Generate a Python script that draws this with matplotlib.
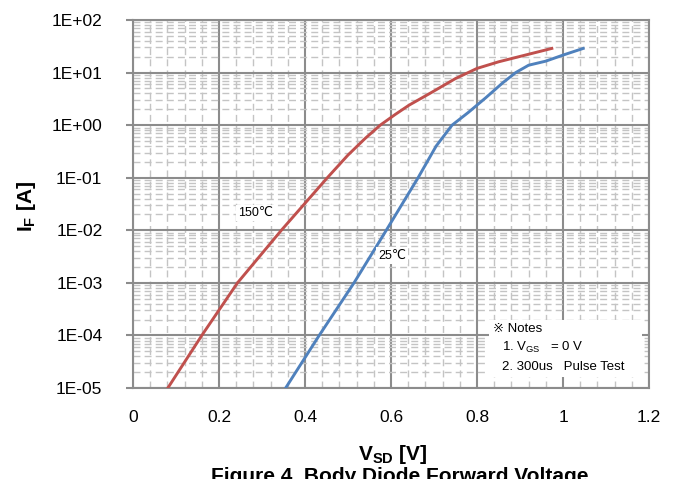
import math
import matplotlib
matplotlib.use('agg')
import matplotlib.pyplot as plt
from matplotlib.ticker import MultipleLocator, LogLocator, FuncFormatter
from matplotlib.patches import Rectangle

# values
vsd_150 = [0.081, 0.160, 0.243, 0.345, 0.452, 0.500, 0.540, 0.575, 0.610, 0.642, 0.690, 0.750, 0.800, 0.850, 0.897, 0.974]
if_150 = [1e-5, 1e-4, 1e-3, 1e-2, 1e-1, 0.27, 0.56, 1.0, 1.6, 2.4, 4.0, 7.7, 12.0, 16.0, 20.0, 28.8]

vsd_25 = [0.355, 0.433, 0.514, 0.589, 0.663, 0.705, 0.742, 0.780, 0.820, 0.860, 0.890, 0.920, 0.960, 1.000, 1.047]
if_25 = [1e-5, 1e-4, 1e-3, 1e-2, 1e-1, 0.4, 1.0, 1.75, 3.3, 6.4, 10.0, 13.8, 16.5, 21.5, 28.8]

x_ticks = [0, 0.2, 0.4, 0.6, 0.8, 1.0, 1.2]
x_tick_labels = ['0', '0.2', '0.4', '0.6', '0.8', '1', '1.2']

plt.rcParams['font.family'] = ['Liberation Sans', 'DejaVu Sans', 'Noto Sans CJK JP']
plt.rcParams['mathtext.fontset'] = 'custom'
plt.rcParams['mathtext.rm'] = 'Liberation Sans'
plt.rcParams['mathtext.bf'] = 'Liberation Sans:bold'

red = '#C0504D'
blue = '#4F81BD'
grid_major = '#8c8c8c'
grid_minor = '#c4c4c4'

fig = plt.figure(figsize=(6.76, 4.79), dpi=100)
ax = fig.add_axes([133/676, 1-388/479, 516/676, 368/479])

ax.plot(vsd_150, if_150, color=red, lw=2.1, zorder=4, solid_joinstyle='round')
ax.plot(vsd_25, if_25, color=blue, lw=2.1, zorder=4, solid_joinstyle='round')

ax.set_yscale('log')
ax.set_xlim(0, 1.2)
ax.set_ylim(1e-5, 1e2)
ax.set_xticks(x_ticks)
ax.set_xticklabels(x_tick_labels)
ax.xaxis.set_minor_locator(MultipleLocator(0.04))
ax.yaxis.set_major_locator(LogLocator(base=10, numticks=20))
ax.yaxis.set_minor_locator(LogLocator(base=10, subs=range(2, 10), numticks=20))
ax.yaxis.set_major_formatter(FuncFormatter(lambda v, p: '1E%+03d' % round(math.log10(v))))
ax.yaxis.set_minor_formatter(FuncFormatter(lambda v, p: ''))

ax.grid(which='major', color=grid_major, lw=1.5, ls='-')
ax.grid(which='minor', color=grid_minor, lw=1.0, ls=(0, (5, 3)))
ax.set_axisbelow(True)

ax.tick_params(axis='y', which='major', length=5, width=1.5, color=grid_major,
               pad=17, labelsize=12.5)
ax.tick_params(axis='x', which='major', length=0, pad=16, labelsize=12.5)
ax.tick_params(which='minor', length=0)
for s in ax.spines.values():
    s.set_color(grid_major)
    s.set_linewidth(1.5)

ax.text(0.285, 0.021, '150\u2103', fontsize=9, ha='center', va='center', zorder=5,
        bbox=dict(facecolor='white', edgecolor='none', pad=1.5))
ax.text(0.603, 0.0033, '25\u2103', fontsize=9, ha='center', va='center', zorder=5,
        bbox=dict(facecolor='white', edgecolor='none', pad=1.5))

# notes box
ax.add_patch(Rectangle((0.690, 0.030), 0.296, 0.155, transform=ax.transAxes,
                       facecolor='white', edgecolor='none', zorder=5))
ax.text(0.697, 0.160, '\u203b Notes', fontsize=9.5, ha='left', va='center',
        transform=ax.transAxes, zorder=6)
ax.text(0.716, 0.109, '1. V$_{\\mathrm{GS}}$   = 0 V', fontsize=9.5, ha='left', va='center',
        transform=ax.transAxes, zorder=6)
ax.text(0.716, 0.057, '2. 300us   Pulse Test', fontsize=9.5, ha='left', va='center',
        transform=ax.transAxes, zorder=6)

fig.text(26/676, 1-206/479, '$\\mathbf{I_F}$ [A]', fontsize=15, fontweight='bold',
         rotation=90, ha='center', va='center')
fig.text(393/676, 1-455/479, '$\\mathbf{V_{SD}}$ [V]', fontsize=15, fontweight='bold',
         ha='center', va='center')
fig.text(400/676, 1-467/479, 'Figure 4. Body Diode Forward Voltage', fontsize=15,
         fontweight='bold', ha='center', va='top')

fig.savefig('out.png', dpi=100)
